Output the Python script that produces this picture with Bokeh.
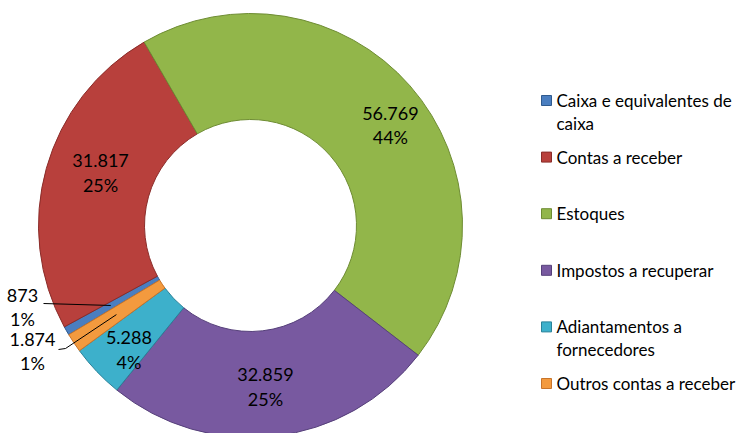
import numpy as np
from bokeh.plotting import figure
from bokeh.models import Range1d
from bokeh.core.properties import value
from bokeh.embed import file_html
from bokeh.resources import INLINE

# ---------------- data ----------------
categories = ["Caixa e equivalentes de caixa", "Contas a receber", "Estoques",
              "Impostos a recuperar", "Adiantamentos a fornecedores", "Outros contas a receber"]
values = [873, 31817, 56769, 32859, 5288, 1874]
value_labels = ["873", "31.817", "56.769", "32.859", "5.288", "1.874"]
legend_lines = [["Caixa e equivalentes de", "caixa"], ["Contas a receber"], ["Estoques"],
                ["Impostos a recuperar"], ["Adiantamentos a", "fornecedores"],
                ["Outros contas a receber"]]

# ---------------- style ----------------
colors = ["#4A7EC0", "#B8403C", "#92B64A", "#7859A0", "#3DB0CB", "#F39A3E"]
edges = ["#2F5A8E", "#8A2C29", "#6E8C33", "#56407A", "#2A8299", "#C8742A"]
FONT = value("Lato")
FS_LAB = "18px"
FS_LEG = "17px"

W, H = 742, 433
def Y(y):  # reference pixel row -> data y
    return 433 - y

p = figure(width=W, height=H, x_range=Range1d(0, 742), y_range=Range1d(0, 433),
           output_backend="svg", toolbar_location=None, min_border=0,
           x_axis_location=None, y_axis_location=None)
p.grid.visible = False
p.outline_line_color = None
p.background_fill_color = "white"
p.border_fill_color = "white"

cx, cy = 250, Y(225)
r_in, r_out = 106, 212
theta0 = 239.0  # first slice angle, clockwise from top

vals = np.array(values, dtype=float)
frac = vals / vals.sum()
cum = np.concatenate([[0.0], np.cumsum(frac)])
th_s = theta0 + cum[:-1] * 360
th_e = theta0 + cum[1:] * 360
mid = (th_s + th_e) / 2
start = np.radians(90 - th_s)
end = np.radians(90 - th_e)
pct = [f"{int(round(f * 100))}%" for f in frac]

p.annular_wedge(x=cx, y=cy, inner_radius=r_in, outer_radius=r_out,
                start_angle=list(start), end_angle=list(end), direction="clock",
                fill_color=colors, line_color=edges, line_width=1)

def polar(r, th):
    t = np.radians(th)
    return cx + r * np.sin(t), cy + r * np.cos(t)

# inside labels (radius, angle nudge)
inside = {1: (159, 3.8), 2: (172, 5.6), 3: (162, 1.3), 4: (174, -2.1)}
for i, (rl, dth) in inside.items():
    x, y = polar(rl, mid[i] + dth)
    p.text(x=[x, x], y=[y + 12, y - 12], text=[value_labels[i], pct[i]],
           text_font=FONT, text_font_size=FS_LAB, text_align="center",
           text_baseline="middle", text_color="#000000")

# outside labels with leaders
outside = {0: ((22, 306), [(43, 303)]), 5: ((32, 350), [(58, 349), (65, 348)])}
for i, ((lx, ly), pts) in outside.items():
    p.text(x=[lx, lx], y=[Y(ly - 11), Y(ly + 12)], text=[value_labels[i], pct[i]],
           text_font=FONT, text_font_size=FS_LAB, text_align="center",
           text_baseline="middle", text_color="#000000")
    ex, ey = polar(161, mid[i])
    xs = [q[0] for q in pts] + [ex]
    ys = [Y(q[1]) for q in pts] + [ey]
    p.line(xs, ys, line_color="black", line_width=1)

# legend
lx_sq, lx_txt = 546, 556
for i, lines in enumerate(legend_lines):
    yy = 100 + 56.6 * i
    p.rect(x=[lx_sq], y=[Y(yy)], width=10, height=10, fill_color=colors[i],
           line_color=edges[i], line_width=1)
    p.text(x=[lx_txt] * len(lines), y=[Y(yy + 23 * k) for k in range(len(lines))],
           text=lines, text_font=FONT, text_font_size=FS_LEG, text_align="left",
           text_baseline="middle", text_color="#000000")

open("out.html", "w").write(file_html(p, INLINE))
